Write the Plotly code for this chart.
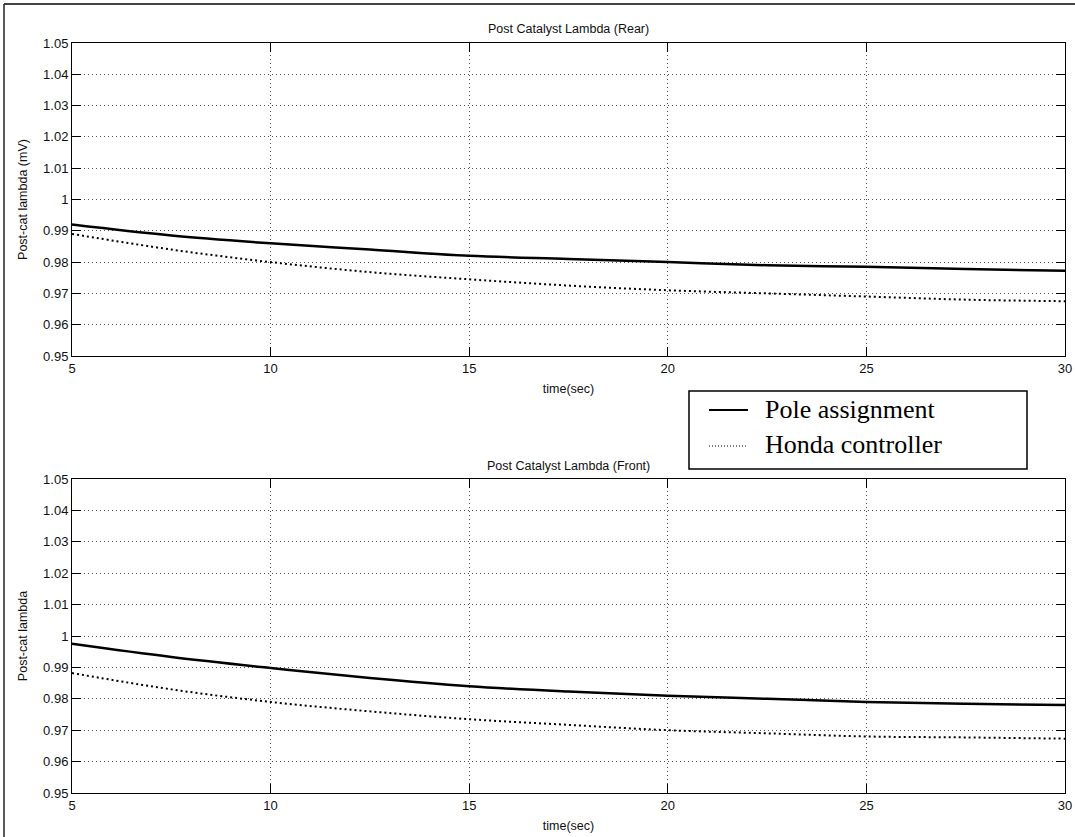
import plotly.graph_objects as go

# ---- data ----
time_s = [5, 7.5, 10, 12.5, 15, 17.5, 20, 22.5, 25, 27.5, 30]
rear_pole = [0.992, 0.9885, 0.986, 0.984, 0.982, 0.981, 0.980, 0.979, 0.9785, 0.9778, 0.9772]
rear_honda = [0.989, 0.984, 0.980, 0.9768, 0.9745, 0.9725, 0.971, 0.970, 0.969, 0.968, 0.9675]
front_pole = [0.9975, 0.9933, 0.9898, 0.9866, 0.984, 0.9823, 0.981, 0.980, 0.979, 0.9784, 0.978]
front_honda = [0.9882, 0.983, 0.979, 0.976, 0.9735, 0.9717, 0.970, 0.969, 0.968, 0.9677, 0.9673]

x_ticks = [5, 10, 15, 20, 25, 30]
x_ticktext = ["5", "10", "15", "20", "25", "30"]
y_ticks = [0.95, 0.96, 0.97, 0.98, 0.99, 1.0, 1.01, 1.02, 1.03, 1.04, 1.05]
y_ticktext = ["0.95", "0.96", "0.97", "0.98", "0.99", "1", "1.01", "1.02", "1.03", "1.04", "1.05"]

series_names = ["Pole assignment", "Honda controller"]
titles = ["Post Catalyst Lambda (Rear)", "Post Catalyst Lambda (Front)"]
y_titles = ["Post-cat lambda (mV)", "Post-cat lambda"]
x_title = "time(sec)"

W, H = 1075, 837
sans = "Liberation Sans, Arial"
tick_font = dict(family=sans, size=13, color="#111")
label_font = dict(family=sans, size=12.5, color="#111")

fig = go.Figure()

SOLID = dict(color="black", width=2.5, shape="spline")
DOTTED = dict(color="black", width=2, dash="2px,3px", shape="spline")

def add_pair(pole, honda, xa, ya):
    fig.add_trace(go.Scatter(x=time_s, y=pole, mode="lines", name=series_names[0],
                             line=SOLID, xaxis=xa, yaxis=ya, showlegend=False))
    fig.add_trace(go.Scatter(x=time_s, y=honda, mode="lines", name=series_names[1],
                             line=DOTTED, xaxis=xa, yaxis=ya, showlegend=False))

add_pair(rear_pole, rear_honda, "x", "y")
add_pair(front_pole, front_honda, "x2", "y2")

x_dom = [72 / W, 1065 / W]
top_dom = [1 - 356 / H, 1 - 43 / H]
bot_dom = [1 - 793 / H, 1 - 479 / H]

common_axis = dict(showline=True, linecolor="black", linewidth=1, mirror="ticks",
                   ticks="inside", ticklen=9, tickcolor="black", tickwidth=1,
                   showgrid=True, gridcolor="#555", gridwidth=1, griddash="1px,3px",
                   zeroline=False, tickfont=tick_font, automargin=False)

fig.update_layout(
    width=W, height=H,
    margin=dict(l=0, r=0, t=0, b=0),
    paper_bgcolor="white", plot_bgcolor="white",
    xaxis=dict(domain=x_dom, anchor="y", range=[5, 30], tickvals=x_ticks, ticktext=x_ticktext,
               title=dict(text=x_title, font=label_font, standoff=9), **common_axis),
    yaxis=dict(domain=top_dom, anchor="x", range=[0.95, 1.05], tickvals=y_ticks, ticktext=y_ticktext,
               title=dict(text=y_titles[0], font=label_font, standoff=12), **common_axis),
    xaxis2=dict(domain=x_dom, anchor="y2", range=[5, 30], tickvals=x_ticks, ticktext=x_ticktext,
                title=dict(text=x_title, font=label_font, standoff=9), **common_axis),
    yaxis2=dict(domain=bot_dom, anchor="x2", range=[0.95, 1.05], tickvals=y_ticks, ticktext=y_ticktext,
                title=dict(text=y_titles[1], font=label_font, standoff=12), **common_axis),
    showlegend=False,
)

cx = (x_dom[0] + x_dom[1]) / 2
fig.add_annotation(text=titles[0], x=cx, y=1 - 29 / H, xref="paper", yref="paper",
                   xanchor="center", yanchor="middle", showarrow=False, font=label_font)
fig.add_annotation(text=titles[1], x=cx, y=1 - 466 / H, xref="paper", yref="paper",
                   xanchor="center", yanchor="middle", showarrow=False, font=label_font)

# ---- legend box (drawn manually to match the boxed legend) ----
serif = dict(family="Liberation Serif, Times New Roman", size=26, color="black")
fig.add_shape(type="rect", xref="paper", yref="paper",
              x0=689 / W, x1=1027 / W, y0=1 - 469 / H, y1=1 - 391 / H,
              line=dict(color="black", width=1.5), fillcolor="white", layer="above")
legend_rows = [(series_names[0], 410, dict(color="black", width=2)),
               (series_names[1], 446, dict(color="black", width=1, dash="1px,2px"))]
for name, ypx, ln in legend_rows:
    fig.add_shape(type="line", xref="paper", yref="paper", x0=709 / W, x1=748 / W,
                  y0=1 - ypx / H, y1=1 - ypx / H, line=ln, layer="above")
    fig.add_annotation(text=name, x=763 / W, y=1 - (ypx - 1) / H, xref="paper", yref="paper",
                       xanchor="left", yanchor="middle", showarrow=False, font=serif)

# outer frame (top and left edges visible)
fig.add_shape(type="line", xref="paper", yref="paper", x0=4 / W, x1=1, y0=1 - 4 / H, y1=1 - 4 / H,
              line=dict(color="#444", width=2))
fig.add_shape(type="line", xref="paper", yref="paper", x0=4 / W, x1=4 / W, y0=0, y1=1 - 4 / H,
              line=dict(color="#222", width=1.5))

fig.write_html("out.html")
